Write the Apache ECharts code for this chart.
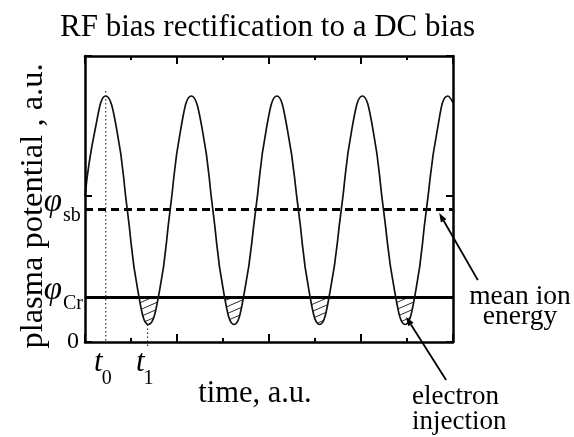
<!DOCTYPE html>
<html>
<head>
<meta charset="utf-8">
<script src="https://cdn.jsdelivr.net/npm/echarts@6/dist/echarts.min.js"></script>
<style>
  html, body { margin: 0; padding: 0; background: #fff; }
  #chart { width: 574px; height: 437px; }
</style>
</head>
<body>
<div id="chart"></div>
<script>
// Plasma potential under an RF bias (arbitrary units) sampled along time
const timePoints = [0.00, 0.22, 0.45, 0.69, 0.92, 1.15, 1.38, 1.62, 1.85, 2.08, 2.31, 2.55,
  2.78, 3.01, 3.24, 3.47, 3.71, 3.94, 4.17, 4.40, 4.64, 4.87, 5.10, 5.33, 5.57, 5.80, 6.03,
  6.26, 6.49, 6.73, 6.96, 7.19, 7.42, 7.66, 7.89, 8.00];
const potential = [5.00, 7.28, 8.43, 7.28, 4.52, 1.75, 0.60, 1.75, 4.52, 7.28, 8.43, 7.28,
  4.52, 1.75, 0.60, 1.75, 4.52, 7.28, 8.43, 7.28, 4.52, 1.75, 0.60, 1.75, 4.52, 7.28, 8.43,
  7.28, 4.52, 1.75, 0.60, 1.75, 4.52, 7.28, 8.43, 8.20];

// Reference levels: self-bias (mean ion energy) and electron-collection threshold
const levelValues = [4.56, 1.54];
const levelSubs = ['sb', 'Cr'];
const phiSb = levelValues[0];
const phiCr = levelValues[1];

// Axis ranges
const timeMin = 0, timeMax = 8, timeStep = 2;
const potMin = 0, potMax = 9.8, potStep = 5;

// Marked instants t0 (maximum) and t1 (minimum): time, upper and lower potential
const markTimes = [0.45, 1.36];
const markUpper = [8.60, 0.60];
const markLower = [0.00, -0.21];
const markSubs = ['0', '1'];

// Annotation arrows: [tail time, tail potential] -> [tip time, tip potential]
const arrowTail = [[8.54, 2.12], [7.85, -1.30]];
const arrowTip = [[7.70, 4.42], [6.98, 0.86]];

const SERIF = '"Liberation Serif", "Times New Roman", serif';

const curveData = timePoints.map((t, i) => [t, potential[i]]);

// Diagonal hatching for the electron-injection phase
function makeHatch() {
  const c = document.createElement('canvas');
  c.width = 16; c.height = 7;
  const g = c.getContext('2d');
  g.strokeStyle = '#2a2a2a';
  g.lineWidth = 1;
  for (let n = -1; n <= 1; n++) {
    g.beginPath();
    g.moveTo(-16, 14 + 7 * n);
    g.lineTo(32, -7 + 7 * n);
    g.stroke();
  }
  return c;
}

const chart = echarts.init(document.getElementById('chart'), null, { renderer: 'canvas' });

const tickStyle = { color: '#000', width: 2 };
function xAxisCfg(position, withName) {
  return {
    type: 'value', position, min: timeMin, max: timeMax, interval: timeStep, z: 10,
    axisLine: { show: true, onZero: false, lineStyle: { color: '#000', width: 2.5 } },
    axisTick: { show: true, inside: true, length: 8, lineStyle: tickStyle },
    minorTick: { show: true, splitNumber: 2, length: 4, lineStyle: tickStyle },
    axisLabel: { show: false },
    splitLine: { show: false },
    name: withName ? 'time, a.u.' : '',
    nameLocation: 'middle',
    nameGap: 36,
    nameTextStyle: { fontFamily: SERIF, fontSize: 30.5, color: '#000', padding: [0, 28, 0, 0] }
  };
}
function yAxisCfg(position, withName) {
  return {
    type: 'value', position, min: potMin, max: potMax, interval: potStep, z: 10,
    axisLine: { show: true, onZero: false, lineStyle: { color: '#000', width: 2.5 } },
    axisTick: { show: true, inside: true, length: 7, lineStyle: tickStyle },
    axisLabel: {
      show: withName, margin: 6, fontFamily: SERIF, fontSize: 24, color: '#000',
      formatter: v => (v === 0 ? '0' : '')
    },
    splitLine: { show: false },
    name: withName ? 'plasma potential , a.u.' : '',
    nameLocation: 'middle',
    nameGap: 35,
    nameTextStyle: { fontFamily: SERIF, fontSize: 32.5, color: '#000', padding: [0, 14, 0, 0] }
  };
}

// Symbol with a subscript, drawn as two text pieces
function symbolWithSub(x, y, main, mainSize, sub, mainDy, subDy, subDx) {
  return [
    { type: 'text', x: x, y: y + mainDy,
      style: { text: main, font: 'italic ' + mainSize + 'px ' + SERIF, fill: '#000', align: 'right', verticalAlign: 'middle' } },
    { type: 'text', x: x + subDx, y: y + subDy,
      style: { text: sub, font: '20px ' + SERIF, fill: '#000', align: 'left', verticalAlign: 'middle' } }
  ];
}

const option = {
  animation: false,
  title: {
    text: 'RF bias rectification to a DC bias',
    left: 55, top: 7,
    textStyle: { fontFamily: SERIF, fontSize: 31, fontWeight: 'normal', color: '#000', lineHeight: 31 }
  },
  grid: { left: 85, right: 121, top: 56, bottom: 95, containLabel: false },
  xAxis: [xAxisCfg('bottom', true), xAxisCfg('top', false)],
  yAxis: [yAxisCfg('left', true), yAxisCfg('right', false)],
  series: [
    {
      // hatched region between the potential and phiCr
      type: 'line', data: curveData, smooth: true, symbol: 'none', silent: true, z: 2,
      lineStyle: { width: 0, opacity: 0 },
      areaStyle: { origin: phiCr, opacity: 1, color: { image: makeHatch(), repeat: 'repeat' } }
    },
    {
      // keep the hatching only below phiCr
      type: 'line', data: [[timeMin, potMax], [timeMax, potMax]], symbol: 'none', silent: true, z: 3,
      lineStyle: { width: 0, opacity: 0 },
      areaStyle: { origin: phiCr, opacity: 1, color: '#fff' }
    },
    {
      type: 'line', data: curveData, smooth: true, symbol: 'none', silent: true, z: 5,
      lineStyle: { color: '#111', width: 1.7 },
      markLine: {
        silent: true, symbol: 'none', animation: false,
        label: { show: false },
        emphasis: { disabled: true },
        data: [
          { yAxis: phiSb, lineStyle: { type: [8, 5], width: 3, color: '#000' } },
          { yAxis: phiCr, lineStyle: { type: 'solid', width: 3, color: '#000' } }
        ]
      }
    },
    {
      // level symbols to the left of the frame
      type: 'custom', z: 6, silent: true, clip: false,
      data: levelValues.map(v => [timeMin, v]),
      renderItem: function (params, api) {
        const p = api.coord([api.value(0), api.value(1)]);
        return {
          type: 'group',
          children: symbolWithSub(p[0] - 23, p[1], 'φ', 33, levelSubs[params.dataIndex], -7, 6.5, 1)
        };
      }
    },
    {
      // dotted guides marking t0 and t1
      type: 'custom', z: 6, silent: true, clip: false,
      data: markTimes.map((t, i) => [t, markUpper[i], markLower[i]]),
      renderItem: function (params, api) {
        const t = api.value(0);
        const a = api.coord([t, api.value(1)]);
        const b = api.coord([t, api.value(2)]);
        const base = api.coord([t, potMin]);
        const children = [
          { type: 'line', shape: { x1: a[0], y1: a[1], x2: b[0], y2: b[1] },
            style: { stroke: '#333', lineWidth: 1.2, lineDash: [1.5, 2.5] } }
        ].concat(symbolWithSub(a[0] - 3, base[1] + 21, 't', 31, markSubs[params.dataIndex], 0, 16, -1));
        return { type: 'group', children: children };
      }
    },
    {
      // annotation arrows
      type: 'custom', z: 6, silent: true, clip: false,
      data: arrowTail.map((p, i) => [p[0], p[1], arrowTip[i][0], arrowTip[i][1]]),
      renderItem: function (params, api) {
        const p0 = api.coord([api.value(0), api.value(1)]);
        const p1 = api.coord([api.value(2), api.value(3)]);
        const dx = p1[0] - p0[0], dy = p1[1] - p0[1];
        const len = Math.sqrt(dx * dx + dy * dy);
        const ux = dx / len, uy = dy / len;
        const hl = 9, hw = 3.2;
        const bx = p1[0] - ux * hl, by = p1[1] - uy * hl;
        return {
          type: 'group',
          children: [
            { type: 'line', shape: { x1: p0[0], y1: p0[1], x2: bx, y2: by },
              style: { stroke: '#000', lineWidth: 1.8 } },
            { type: 'polygon',
              shape: { points: [[p1[0], p1[1]], [bx - uy * hw, by + ux * hw], [bx + uy * hw, by - ux * hw]] },
              style: { fill: '#000' } }
          ]
        };
      }
    }
  ],
  graphic: [
    {
      type: 'text', x: 520, y: 287, silent: true,
      style: { text: 'mean ion\nenergy', fontFamily: SERIF, fontSize: 27.5, lineHeight: 20,
               align: 'center', verticalAlign: 'top', fill: '#000' }
    },
    {
      type: 'text', x: 412, y: 384, silent: true,
      style: { text: 'electron\ninjection', fontFamily: SERIF, fontSize: 27, lineHeight: 25,
               align: 'left', verticalAlign: 'top', fill: '#000' }
    }
  ]
};

chart.setOption(option);
</script>
</body>
</html>
